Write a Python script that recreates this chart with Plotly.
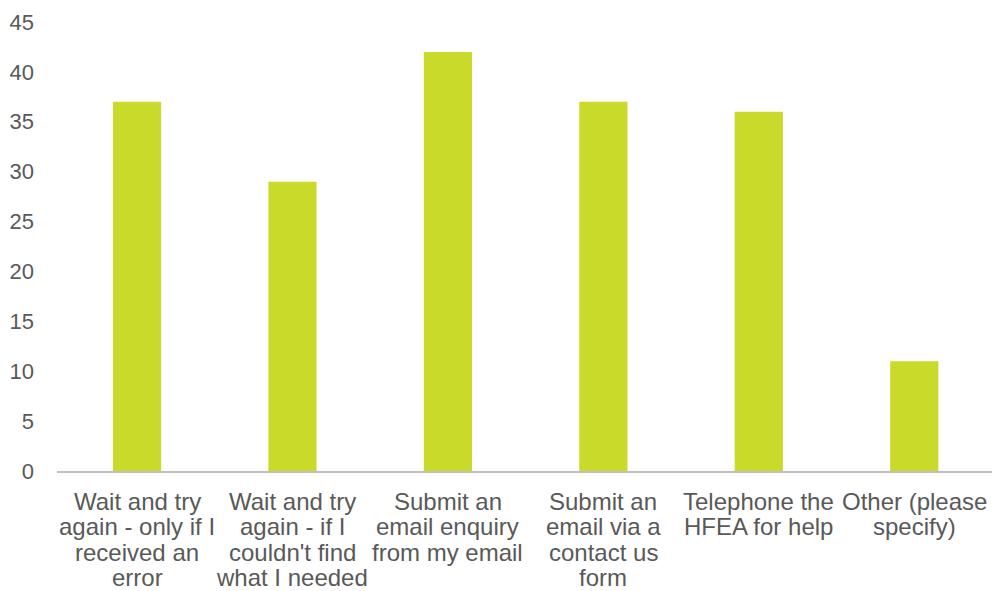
import plotly.graph_objects as go

categories = [
    "Wait and try<br>again - only if I<br>received an<br>error",
    "Wait and try<br>again - if I<br>couldn't find<br>what I needed",
    "Submit an<br>email enquiry<br>from my email",
    "Submit an<br>email via a<br>contact us<br>form",
    "Telephone the<br>HFEA for help",
    "Other (please<br>specify)",
]
values = [37, 29, 42, 37, 36, 11]
y_ticks = [0, 5, 10, 15, 20, 25, 30, 35, 40, 45]

TEXT = "#595959"
fig = go.Figure(go.Bar(x=categories, y=values, marker_color="#C9DA2A",
                       marker_line_width=0))

# category labels drawn line by line for tight line spacing
for cat in categories:
    for i, line in enumerate(cat.split("<br>")):
        fig.add_annotation(x=cat, xref="x", y=0, yref="y", text=line,
                           showarrow=False, yanchor="middle", xanchor="center",
                           yshift=-(30 + 25.5 * i),
                           font=dict(size=24, color=TEXT))

fig.update_layout(
    width=992, height=591,
    margin=dict(l=57, r=0, t=22, b=120),
    paper_bgcolor="white", plot_bgcolor="white",
    bargap=0.69,
    showlegend=False,
    font=dict(family="Liberation Sans, Arial, sans-serif", size=22, color=TEXT),
)
fig.update_xaxes(showline=True, linecolor="#BFBFBF", linewidth=2, ticks="",
                 showticklabels=False, showgrid=False, automargin=False)
fig.update_yaxes(range=[0, 45], tickvals=y_ticks, showgrid=False, zeroline=False,
                 showline=False, ticks="", ticklabelstandoff=22, automargin=False,
                 tickfont=dict(size=22, color=TEXT))
fig.write_html(
    "out.html",
    config={"displayModeBar": False},
    post_script="document.body.style.margin='0';document.body.style.overflow='hidden';",
)
